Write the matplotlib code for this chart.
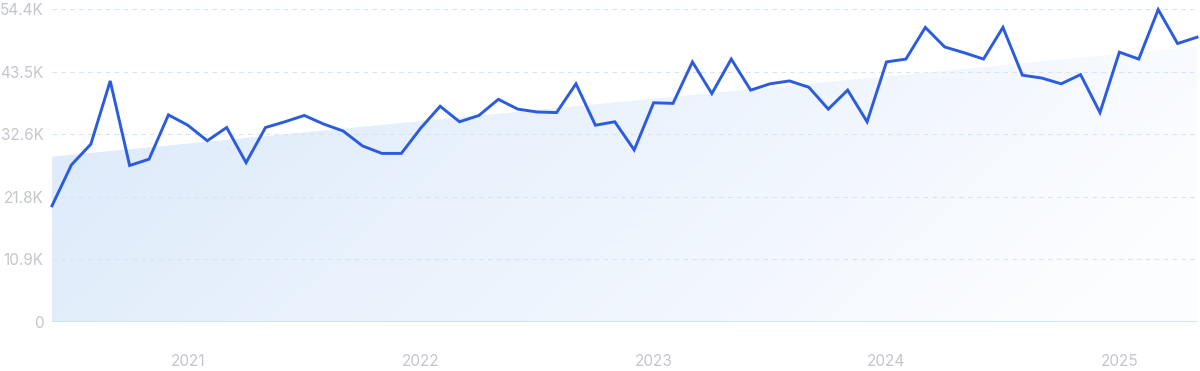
import numpy as np
import matplotlib.pyplot as plt
from matplotlib.colors import LinearSegmentedColormap
from matplotlib.patches import Polygon

# monthly values (thousands), Jun 2020 - May 2025
values = [20.2, 27.3, 30.9, 41.9, 27.2, 28.3, 36.0, 34.2, 31.5, 33.8,
          27.7, 33.8, 34.8, 35.9, 34.4, 33.2, 30.6, 29.3, 29.3, 33.7,
          37.5, 34.8, 35.9, 38.7, 37.0, 36.5, 36.4, 41.4, 34.2, 34.8,
          29.9, 38.1, 38.0, 45.2, 39.7, 45.7, 40.3, 41.4, 41.9, 40.8,
          37.0, 40.3, 34.8, 45.2, 45.7, 51.2, 47.8, 46.8, 45.7, 51.2,
          42.9, 42.4, 41.4, 43.0, 36.4, 46.9, 45.7, 54.3, 48.4, 49.5]
year_labels = ['2021', '2022', '2023', '2024', '2025']
year_pos = [7, 19, 31, 43, 55]  # January of each year, months since Jun 2020
y_ticks = [0, 10.88, 21.76, 32.64, 43.52, 54.4]
y_labels = ['0', '10.9K', '21.8K', '32.6K', '43.5K', '54.4K']

x = np.arange(len(values))
y = np.array(values)

plt.rcParams['font.family'] = ['Inter', 'DejaVu Sans']

fig = plt.figure(figsize=(12, 3.71), dpi=100)
ax = fig.add_axes([52 / 1200, 49 / 371, 1145 / 1200, 313 / 371])
ax.set_xlim(0, len(values) - 1)
ax.set_ylim(0, 54.4)

# trend area with gradient
k, b = np.polyfit(x, y, 1)
trend = k * x + b
poly = Polygon([(0, 0), (0, trend[0]), (x[-1], trend[-1]), (x[-1], 0)],
               closed=True, facecolor='none', edgecolor='none')
ax.add_patch(poly)
gx, gy = np.meshgrid(np.linspace(0, 1, 300), np.linspace(1, 0, 100))
t = np.clip(gx * 0.85 + (1 - gy) * 0.25, 0, 1)
cmap = LinearSegmentedColormap.from_list('fade', ['#dbe9fa', '#ebf3fd', '#fcfdff'])
img = ax.imshow(t, cmap=cmap, extent=[0, x[-1], 0, 54.4], aspect='auto',
                origin='upper', zorder=1, interpolation='bilinear')
img.set_clip_path(poly)

# grid
for v in y_ticks[1:]:
    ax.axhline(v, color='#d6e4f5', linestyle=(0, (4, 4)), linewidth=0.8, zorder=2)
ax.axhline(0, color='#c6e2fa', linewidth=1.2, zorder=2)

ax.plot(x, y, color='#2b5ce0', linewidth=2.1, zorder=3, clip_on=False,
        solid_joinstyle='miter')

for s in ax.spines.values():
    s.set_visible(False)
ax.set_yticks(y_ticks)
ax.set_yticklabels(y_labels)
ax.set_xticks(year_pos)
ax.set_xticklabels(year_labels)
ax.tick_params(axis='both', length=0, labelsize=11, labelcolor='#c3c6cd')
ax.tick_params(axis='y', pad=6)
ax.tick_params(axis='x', pad=23)

fig.savefig('out.png', dpi=100)
